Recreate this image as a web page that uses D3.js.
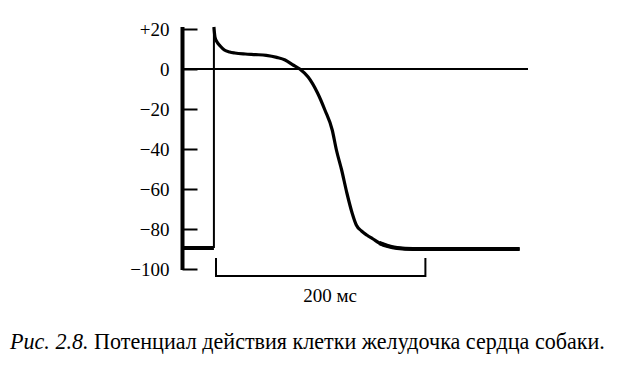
<!DOCTYPE html>
<html>
<head>
<meta charset="utf-8">
<script src="https://cdn.jsdelivr.net/npm/d3@7"></script>
<style>
body { margin: 0; background: #fff; }
text { font-family: "Liberation Serif", "Times New Roman", Tinos, "DejaVu Serif", "Noto Serif", FreeSerif, Times, serif; fill: #000; }
</style>
</head>
<body>
<div id="canvas"></div>
<script>
// ----------------------------------------------------------
// DATA -----------------------------------------------------
// ----------------------------------------------------------
// y axis ticks, mV
var tick_values = [20, 0, -20, -40, -60, -80, -100];
var tick_labels = ["+20", "0", "\u221220", "\u221240", "\u221260", "\u221280", "\u2212100"];
// resting potential before the stimulus (time ms, voltage mV)
var pre_time = [-30, 0];
var pre_voltage = [-89.5, -89.5];
// stimulus / upstroke
var stim_time = [0, 0];
var stim_voltage = [-89.5, 21];
// action potential
var ap_time = [0, 1, 3, 6, 10, 15, 20, 30, 40, 50, 60, 68, 75, 82, 90, 99, 106, 113, 117, 122, 127, 132, 136, 141, 146, 152, 158, 166, 175, 190, 206, 250, 292];
var ap_voltage = [21, 16, 13.5, 11.5, 9.5, 8.5, 8, 7.5, 7.2, 6.8, 5.8, 4.5, 2.2, 0, -4, -12, -20.5, -30.5, -40.5, -50.5, -62, -72, -78, -81, -83, -85, -87, -88.5, -89.5, -90, -90, -90, -90];
// zero reference line
var zero_time = [-30, 300];
// time scale bar, ms
var bar_time = [2, 202];
var bar_label = "200 мс";
// caption
var caption_italic = "Рис. 2.8.";
var caption_text = " Потенциал действия клетки желудочка сердца собаки.";

// ----------------------------------------------------------
// STRUCTURE ------------------------------------------------
// ----------------------------------------------------------
var svg = d3.select("#canvas").append("svg")
  .attr("width", 630)
  .attr("height", 370)
  .style("background-color", "#fff");

var x = d3.scaleLinear().domain([-30, 300]).range([182.5, 528]);
var y = d3.scaleLinear().domain([-100, 20]).range([269, 29]);

var gfx = svg.append("g").attr("class", "gfx");
var text_group = svg.append("g").attr("class", "text_group");

// ----------------------------------------------------------
// AXIS -----------------------------------------------------
// ----------------------------------------------------------
gfx.append("g")
  .attr("transform", "translate(" + x(-30) + ",0)")
  .call(d3.axisLeft(y)
    .tickValues(tick_values)
    .tickSize(-15)
    .tickPadding(13)
    .tickFormat(function(d, i) { return tick_labels[i]; }))
  .call(function(g) {
    g.select(".domain").remove();
    g.selectAll(".tick line").attr("stroke", "#000").attr("stroke-width", 2);
    g.selectAll(".tick text")
      .style("font-size", "19px")
      .attr("fill", "#000");
  });

// thick vertical axis line
gfx.append("line")
  .attr("x1", x(-30)).attr("x2", x(-30))
  .attr("y1", y(20) - 2).attr("y2", y(-100) + 1)
  .attr("stroke", "#000")
  .attr("stroke-width", 4);

// zero line
gfx.append("line")
  .attr("x1", x(zero_time[0])).attr("x2", x(zero_time[1]))
  .attr("y1", y(0)).attr("y2", y(0))
  .attr("stroke", "#000")
  .attr("stroke-width", 2);

// ----------------------------------------------------------
// GFX ------------------------------------------------------
// ----------------------------------------------------------
function pairs(t, v) { return t.map(function(d, i) { return [d, v[i]]; }); }

var line = d3.line()
  .x(function(d) { return x(d[0]); })
  .y(function(d) { return y(d[1]); });

var curve = d3.line()
  .curve(d3.curveMonotoneX)
  .x(function(d) { return x(d[0]); })
  .y(function(d) { return y(d[1]); });

// resting line before stimulus
gfx.append("path")
  .attr("d", line(pairs(pre_time, pre_voltage)))
  .attr("fill", "none").attr("stroke", "#000").attr("stroke-width", 4);

// upstroke
gfx.append("path")
  .attr("d", line(pairs(stim_time, stim_voltage)))
  .attr("fill", "none").attr("stroke", "#000").attr("stroke-width", 2);

// action potential
var ap = pairs(ap_time, ap_voltage);
gfx.append("path")
  .attr("d", curve(ap))
  .attr("fill", "none").attr("stroke", "#000").attr("stroke-width", 3.2)
  .attr("stroke-linejoin", "round");

// thicker tail of the repolarisation
gfx.append("path")
  .attr("d", curve(ap.filter(function(d) { return d[0] >= 158; })))
  .attr("fill", "none").attr("stroke", "#000").attr("stroke-width", 4.2);

// time scale bar
gfx.append("path")
  .attr("d", "M" + x(bar_time[0]) + ",258V276H" + x(bar_time[1]) + "V258")
  .attr("fill", "none").attr("stroke", "#000").attr("stroke-width", 2);

// ----------------------------------------------------------
// TEXT -----------------------------------------------------
// ----------------------------------------------------------
text_group.append("text")
  .attr("x", 330)
  .attr("y", 302)
  .attr("text-anchor", "middle")
  .style("font-size", "19px")
  .text(bar_label);

var caption = text_group.append("text")
  .attr("x", 10)
  .attr("y", 349)
  .style("font-size", "20px");
caption.append("tspan").attr("font-style", "italic").text(caption_italic);
caption.append("tspan").text(caption_text);
// fit caption to its width in the figure
var cap_w = caption.node().getComputedTextLength();
caption.style("font-size", (20 * 595 / cap_w).toFixed(2) + "px");
</script>
</body>
</html>
